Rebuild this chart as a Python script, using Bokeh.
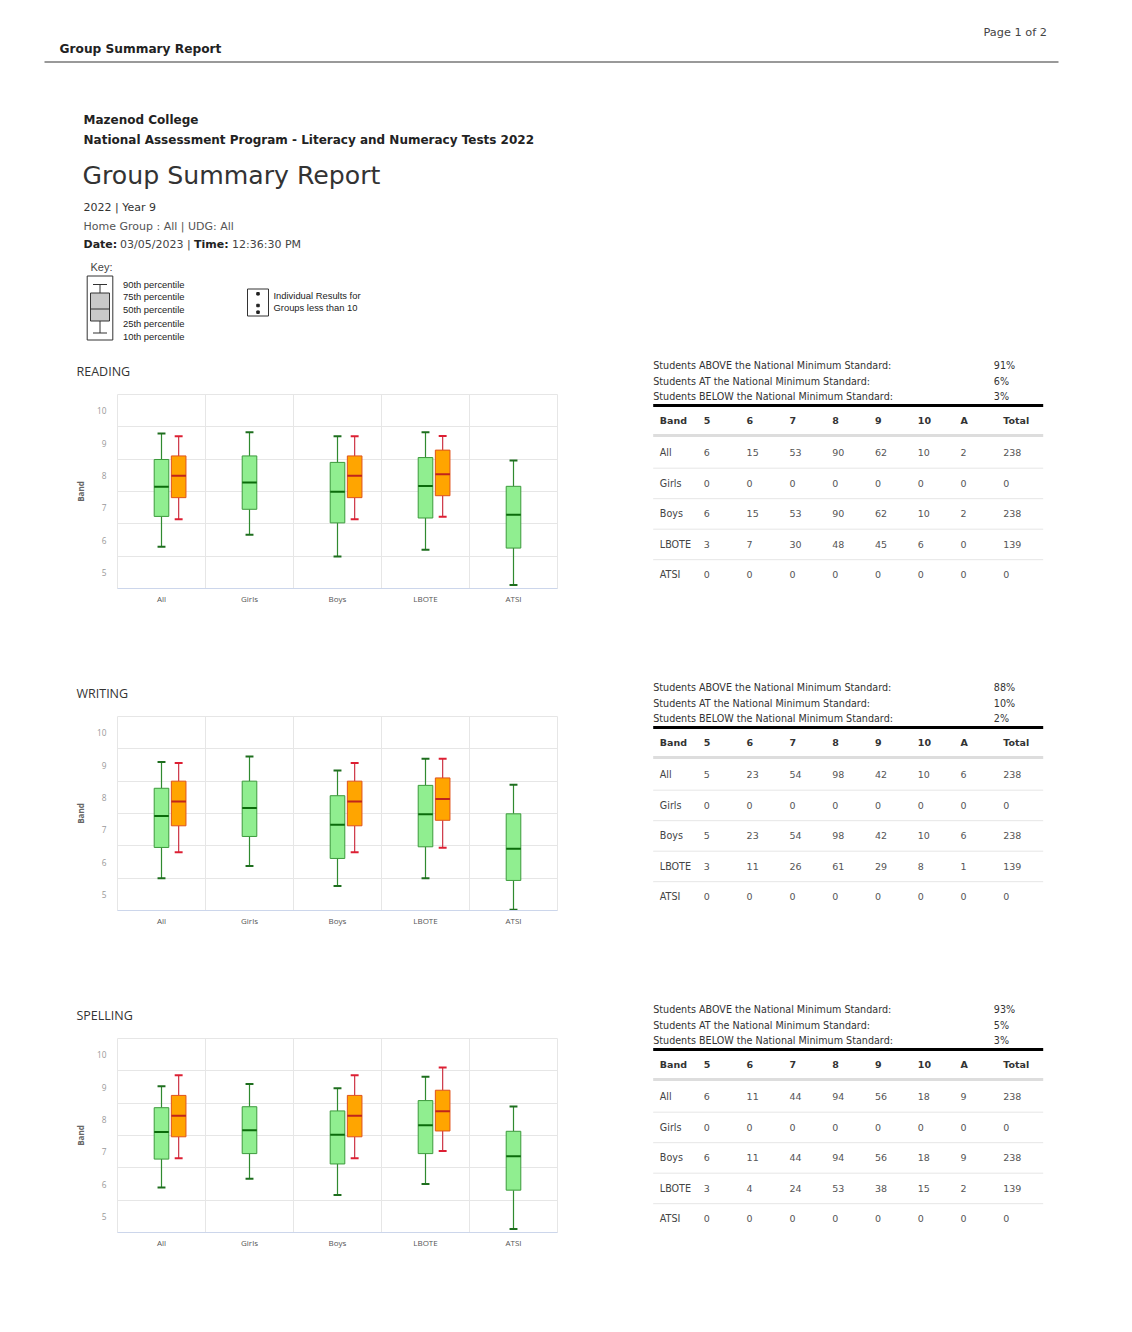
from bokeh.plotting import figure
from bokeh.layouts import column, row
from bokeh.models import Range1d, FactorRange, FixedTicker, ColumnDataSource
from bokeh.transform import dodge
from bokeh.core.properties import value
from bokeh.embed import file_html
from bokeh.resources import INLINE

# ---------------- data ----------------
groups = ["All", "Girls", "Boys", "LBOTE", "ATSI"]
bands = ["5", "6", "7", "8", "9", "10", "A"]
table_groups = ["All", "Girls", "Boys", "LBOTE", "ATSI"]
nat_groups = ["All", "Boys", "LBOTE"]

# READING  (school = green boxes, national = orange boxes) : 10th/25th/50th/75th/90th percentiles
reading_p10 = [5.79, 6.16, 5.49, 5.70, 4.61]
reading_p25 = [6.73, 6.95, 6.53, 6.68, 5.75]
reading_p50 = [7.65, 7.78, 7.49, 7.67, 6.78]
reading_p75 = [8.49, 8.60, 8.40, 8.55, 7.66]
reading_p90 = [9.29, 9.33, 9.21, 9.33, 8.46]
reading_nat_p10 = [6.64, 6.64, 6.72]
reading_nat_p25 = [7.31, 7.31, 7.37]
reading_nat_p50 = [7.99, 7.99, 8.03]
reading_nat_p75 = [8.60, 8.60, 8.78]
reading_nat_p90 = [9.21, 9.21, 9.22]
reading_nms = ["91%", "6%", "3%"]
reading_counts = [[6, 15, 53, 90, 62, 10, 2],
                  [0, 0, 0, 0, 0, 0, 0],
                  [6, 15, 53, 90, 62, 10, 2],
                  [3, 7, 30, 48, 45, 6, 0],
                  [0, 0, 0, 0, 0, 0, 0]]
reading_totals = [238, 0, 238, 139, 0]

# WRITING
writing_p10 = [5.50, 5.88, 5.26, 5.50, 4.52]
writing_p25 = [6.45, 6.79, 6.11, 6.47, 5.43]
writing_p50 = [7.42, 7.67, 7.15, 7.48, 6.41]
writing_p75 = [8.28, 8.50, 8.05, 8.37, 7.49]
writing_p90 = [9.09, 9.26, 8.83, 9.19, 8.39]
writing_nat_p10 = [6.30, 6.30, 6.44]
writing_nat_p25 = [7.12, 7.12, 7.29]
writing_nat_p50 = [7.87, 7.87, 7.95]
writing_nat_p75 = [8.50, 8.50, 8.60]
writing_nat_p90 = [9.06, 9.06, 9.19]
writing_nms = ["88%", "10%", "2%"]
writing_counts = [[5, 23, 54, 98, 42, 10, 6],
                  [0, 0, 0, 0, 0, 0, 0],
                  [5, 23, 54, 98, 42, 10, 6],
                  [3, 11, 26, 61, 29, 8, 1],
                  [0, 0, 0, 0, 0, 0, 0]]
writing_totals = [238, 0, 238, 139, 0]

# SPELLING
spelling_p10 = [5.89, 6.16, 5.66, 6.00, 4.61]
spelling_p25 = [6.77, 6.94, 6.62, 6.94, 5.81]
spelling_p50 = [7.61, 7.66, 7.52, 7.82, 6.86]
spelling_p75 = [8.36, 8.39, 8.26, 8.58, 7.63]
spelling_p90 = [9.02, 9.09, 8.96, 9.32, 8.40]
spelling_nat_p10 = [6.80, 6.80, 7.02]
spelling_nat_p25 = [7.46, 7.46, 7.64]
spelling_nat_p50 = [8.11, 8.11, 8.25]
spelling_nat_p75 = [8.74, 8.74, 8.90]
spelling_nat_p90 = [9.36, 9.36, 9.60]
spelling_nms = ["93%", "5%", "3%"]
spelling_counts = [[6, 11, 44, 94, 56, 18, 9],
                   [0, 0, 0, 0, 0, 0, 0],
                   [6, 11, 44, 94, 56, 18, 9],
                   [3, 4, 24, 53, 38, 15, 2],
                   [0, 0, 0, 0, 0, 0, 0]]
spelling_totals = [238, 0, 238, 139, 0]

y_tick_values = [5, 6, 7, 8, 9, 10]
y_grid_values = [5.5, 6.5, 7.5, 8.5, 9.5]

# ---------------- styles ----------------
FONT = "DejaVu Sans"
CFONT = "Open Sans"
KFONT = "Liberation Sans"
PAGE_W = 1124
HEAD_H = 355
ROW_H = 322
TITLE_H = 39
CHART_W = 600
TABLE_W = PAGE_W - CHART_W


def canvas(w, h):
    p = figure(width=w, height=h, x_range=Range1d(0, w), y_range=Range1d(h, 0),
               x_axis_location=None, y_axis_location=None, min_border=0, title=None,
               output_backend="svg", toolbar_location=None, tools="")
    p.frame_align = False
    p.grid.visible = False
    p.outline_line_color = None
    return p


def txt(p, x, y, s, size, color="#333333", bold=False, font=FONT, align="left"):
    if not isinstance(x, list):
        x, y, s = [x], [y], [s]
    p.text(x=x, y=y, text=s, text_font=value(font), text_font_size=f"{size}px",
           text_color=color, text_font_style="bold" if bold else "normal",
           text_baseline="middle", text_align=align)


# ---------------- header (page coordinates) ----------------
head = canvas(PAGE_W, HEAD_H)
txt(head, 59, 48, "Group Summary Report", 12.2, "#222222", bold=True)
txt(head, 983, 32, "Page 1 of 2", 11.3, "#444444")
head.segment(x0=[44], y0=[61.5], x1=[1058], y1=[61.5], line_color="#777777", line_width=1.3)
txt(head, 83, 119, "Mazenod College", 12, "#222222", bold=True)
txt(head, 83, 139, "National Assessment Program - Literacy and Numeracy Tests 2022", 12, "#222222", bold=True)
txt(head, 82, 175, "Group Summary Report", 25.2, "#333333")
txt(head, 83, 207, "2022 | Year 9", 11, "#333333")
txt(head, 83, 226, "Home Group : All | UDG: All", 11, "#555555")
txt(head, 83, 244, "Date:", 11, "#222222", bold=True)
txt(head, 119.5, 244, "03/05/2023 |", 11, "#444444")
txt(head, 193.5, 244, "Time:", 11, "#222222", bold=True)
txt(head, 231.5, 244, "12:36:30 PM", 11, "#444444")
# key
txt(head, 90, 266, "Key:", 11, "#444444", font=KFONT)
head.rect(x=[99.5], y=[307.5], width=[25.6], height=[64], fill_color=None, line_color="#333333", line_width=1)
head.segment(x0=[99.5], y0=[284], x1=[99.5], y1=[332.5], line_color="#333333", line_width=1)
head.segment(x0=[92.5, 92.5], y0=[284, 332.5], x1=[106.5, 106.5], y1=[284, 332.5],
             line_color="#333333", line_width=1.2)
head.quad(left=[90], right=[109], top=[292.5], bottom=[320.5], fill_color="#c8c8c8", line_color="#333333", line_width=1)
head.segment(x0=[90], y0=[308.5], x1=[109], y1=[308.5], line_color="#333333", line_width=1.2)
txt(head, [122.5] * 5, [284, 296, 308.5, 322.5, 335.7],
    ["90th percentile", "75th percentile", "50th percentile", "25th percentile", "10th percentile"],
    9.4, "#222222", font=KFONT)
head.rect(x=[257.5], y=[302], width=[21], height=[27], fill_color=None, line_color="#333333", line_width=1)
head.scatter(x=[257.5, 257.5, 257.5], y=[293.3, 305, 311.7], size=2.5, marker="square", color="#222222")
txt(head, [273, 273], [295.3, 306.7], ["Individual Results for", "Groups less than 10"], 9.4, "#222222", font=KFONT)


# ---------------- charts ----------------
def make_title(title):
    c = canvas(CHART_W, TITLE_H)
    txt(c, 76, 15.5, title, 12.5, "#333333", font=CFONT)
    return c


def make_chart(p10, p25, p50, p75, p90, n10, n25, n50, n75, n90):
    p = figure(width=CHART_W, height=ROW_H - TITLE_H, x_range=FactorRange(*groups), y_range=Range1d(4.5, 10.5),
               min_border_left=117, min_border_right=43, min_border_top=0, min_border_bottom=89, title=None,
               output_backend="svg", toolbar_location=None, tools="")
    p.frame_align = False
    p.outline_line_color = "#e6e6e6"
    p.xgrid.ticker = FixedTicker(ticks=list(range(len(groups) + 1)))
    p.xgrid.grid_line_color = "#e6e6e6"
    p.ygrid.ticker = FixedTicker(ticks=y_grid_values)
    p.ygrid.grid_line_color = "#e6e6e6"
    p.yaxis.ticker = FixedTicker(ticks=y_tick_values)
    p.yaxis.axis_line_color = None
    p.yaxis.major_tick_line_color = None
    p.yaxis.major_tick_out = 0
    p.yaxis.major_tick_in = 0
    p.yaxis.minor_tick_line_color = None
    p.yaxis.major_label_text_font = CFONT
    p.yaxis.major_label_text_font_size = "8.3px"
    p.yaxis.major_label_text_color = "#999999"
    p.yaxis.major_label_standoff = 11
    p.yaxis.axis_label = "Band"
    p.yaxis.axis_label_text_font = CFONT
    p.yaxis.axis_label_text_font_size = "8px"
    p.yaxis.axis_label_text_font_style = "bold"
    p.yaxis.axis_label_text_color = "#666666"
    p.yaxis.axis_label_standoff = 8
    p.xaxis.axis_line_color = "#ccd6eb"
    p.xaxis.major_tick_line_color = None
    p.xaxis.major_tick_out = 0
    p.xaxis.major_tick_in = 0
    p.xaxis.major_label_text_font = CFONT
    p.xaxis.major_label_text_font_size = "8px"
    p.xaxis.major_label_text_color = "#555555"
    p.xaxis.major_label_standoff = 4

    src = ColumnDataSource(dict(g=groups, p10=p10, p25=p25, p50=p50, p75=p75, p90=p90))
    nsrc = ColumnDataSource(dict(g=nat_groups, p10=n10, p25=n25, p50=n50, p75=n75, p90=n90))
    xr = p.x_range

    def boxes(source, off, fill, line, med, whisk, cap):
        xc = dodge("g", off, range=xr)
        xl = dodge("g", off - 0.083, range=xr)
        xr_ = dodge("g", off + 0.083, range=xr)
        cl = dodge("g", off - 0.045, range=xr)
        cr = dodge("g", off + 0.045, range=xr)
        p.segment(x0=xc, y0="p75", x1=xc, y1="p90", source=source, line_color=whisk, line_width=1.2)
        p.segment(x0=xc, y0="p10", x1=xc, y1="p25", source=source, line_color=whisk, line_width=1.2)
        p.segment(x0=cl, y0="p90", x1=cr, y1="p90", source=source, line_color=cap, line_width=2)
        p.segment(x0=cl, y0="p10", x1=cr, y1="p10", source=source, line_color=cap, line_width=2)
        p.vbar(x=xc, width=0.166, bottom="p25", top="p75", source=source,
               fill_color=fill, line_color=line, line_width=1)
        p.segment(x0=xl, y0="p50", x1=xr_, y1="p50", source=source, line_color=med, line_width=2)

    boxes(src, 0.0, "#90ee90", "#3c9a3c", "#0b6b0b", "#2f8a2f", "#1e6e1e")
    boxes(nsrc, 0.195, "#ffa500", "#e0531c", "#c0241c", "#cc3344", "#dd1f33")
    return p


def make_table(nms, counts, totals):
    # coordinates: x relative to page x=600, y relative to row top
    t = canvas(TABLE_W, ROW_H)
    ys = [10.3, 25.7, 41.3]
    txt(t, [52.7] * 3, ys, ["Students ABOVE the National Minimum Standard:",
                            "Students AT the National Minimum Standard:",
                            "Students BELOW the National Minimum Standard:"], 9.6, "#333333")
    txt(t, [393.3] * 3, ys, nms, 9.6, "#333333")
    t.segment(x0=[52.7], y0=[50], x1=[442.7], y1=[50], line_color="#000000", line_width=3)
    col_x = [103.3 + 42.8 * i for i in range(len(bands))]
    txt(t, 59.3, 65, "Band", 9.5, "#333333", bold=True)
    txt(t, col_x, [65] * len(bands), bands, 9.5, "#333333", bold=True)
    txt(t, 402.7, 65, "Total", 9.5, "#333333", bold=True)
    t.segment(x0=[52.7], y0=[80], x1=[442.7], y1=[80], line_color="#dddddd", line_width=3)
    row_y = [97.3 + 30.5 * i for i in range(len(table_groups))]
    txt(t, [59.3] * len(table_groups), row_y, table_groups, 9.6, "#444444")
    xs, yy, ss = [], [], []
    for r, vals in enumerate(counts):
        for c, v in enumerate(vals):
            xs.append(col_x[c]); yy.append(row_y[r]); ss.append(str(v))
        xs.append(402.7); yy.append(row_y[r]); ss.append(str(totals[r]))
    txt(t, xs, yy, ss, 9.5, "#555555")
    sep_y = [112.7 + 30.5 * i for i in range(len(table_groups) - 1)]
    t.segment(x0=[52.7] * len(sep_y), y0=sep_y, x1=[442.7] * len(sep_y), y1=sep_y,
              line_color="#e6e6e6", line_width=1)
    return t


def make_row(title, p10, p25, p50, p75, p90, n10, n25, n50, n75, n90, nms, counts, totals):
    left = column(make_title(title), make_chart(p10, p25, p50, p75, p90, n10, n25, n50, n75, n90), spacing=0)
    return row(left, make_table(nms, counts, totals), spacing=0)


r1 = make_row("READING", reading_p10, reading_p25, reading_p50, reading_p75, reading_p90,
              reading_nat_p10, reading_nat_p25, reading_nat_p50, reading_nat_p75, reading_nat_p90,
              reading_nms, reading_counts, reading_totals)
r2 = make_row("WRITING", writing_p10, writing_p25, writing_p50, writing_p75, writing_p90,
              writing_nat_p10, writing_nat_p25, writing_nat_p50, writing_nat_p75, writing_nat_p90,
              writing_nms, writing_counts, writing_totals)
r3 = make_row("SPELLING", spelling_p10, spelling_p25, spelling_p50, spelling_p75, spelling_p90,
              spelling_nat_p10, spelling_nat_p25, spelling_nat_p50, spelling_nat_p75, spelling_nat_p90,
              spelling_nms, spelling_counts, spelling_totals)

page = column(head, r1, r2, r3, spacing=0)
open("out.html", "w").write(file_html(page, INLINE))
